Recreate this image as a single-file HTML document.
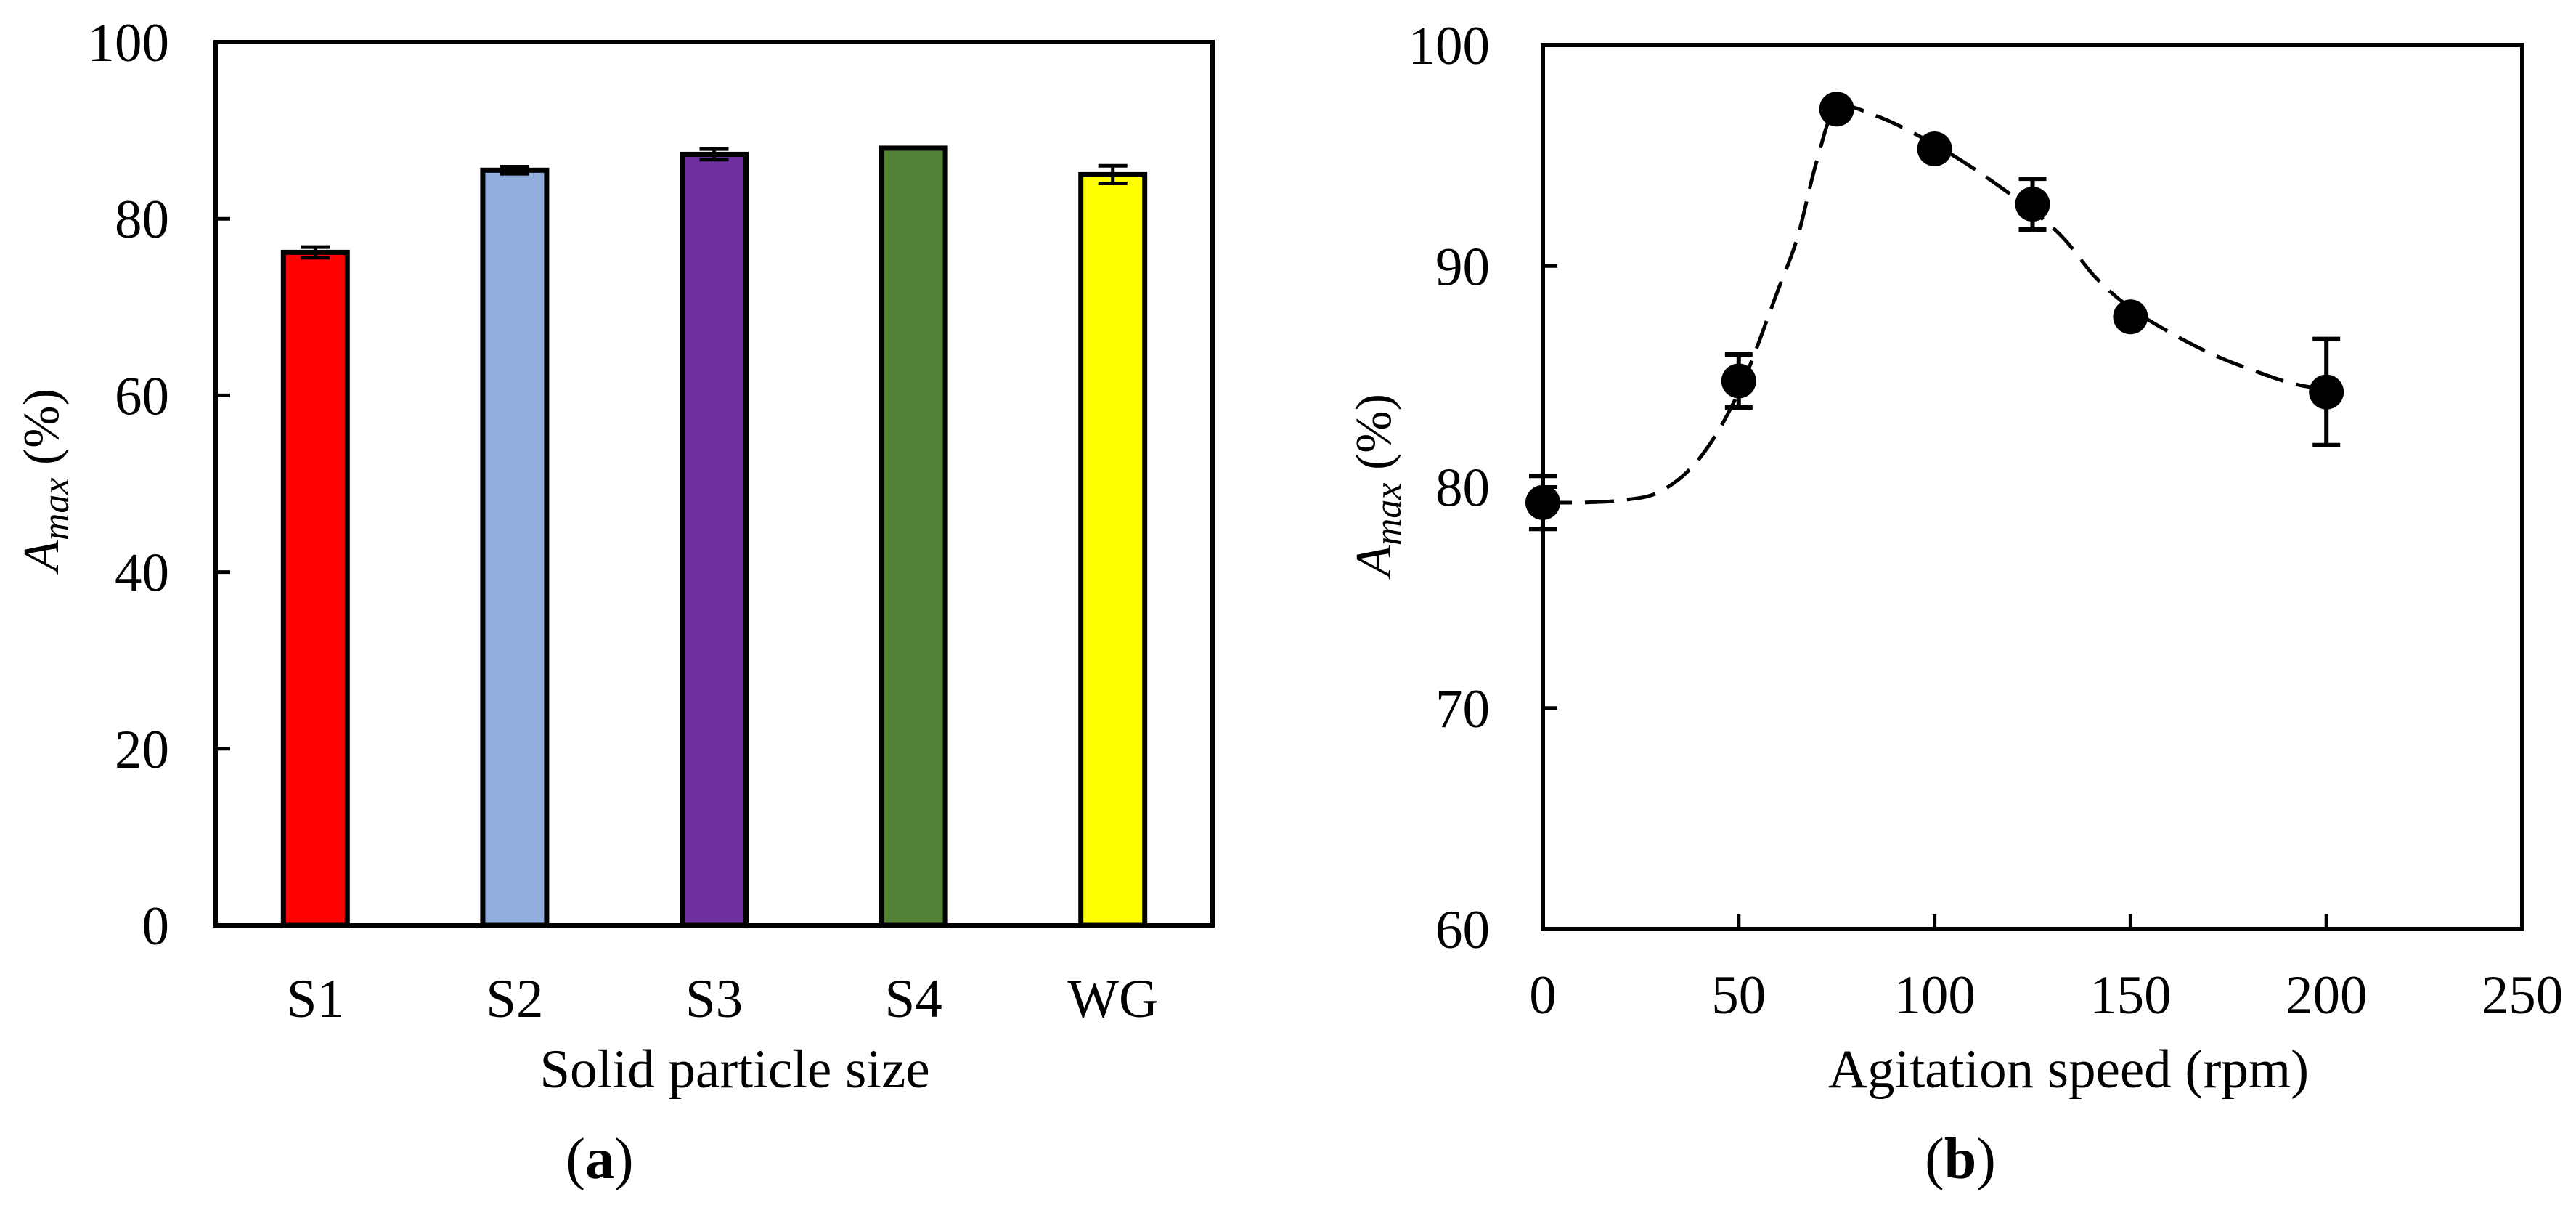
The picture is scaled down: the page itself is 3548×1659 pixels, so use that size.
<!DOCTYPE html>
<html><head><meta charset="utf-8">
<style>
html,body{margin:0;padding:0;background:#fff;}
svg{display:block;font-family:"Liberation Serif","Times New Roman",serif;}
</style></head>
<body>
<svg id="fig" width="3548" height="1659" viewBox="0 0 3548 1659" xmlns="http://www.w3.org/2000/svg">
<g id="chartA"></g>
<g id="chartB"></g>
</svg>
<script>
// ---- Chart (a) data ----
const catsA = ["S1","S2","S3","S4","WG"];
const valsA = [76.2, 85.5, 87.3, 88.0, 85.0];
const errA = [0.6, 0.4, 0.6, 0.0, 1.0];
const colorsA = ["#FF0000","#8FADDD","#7030A0","#538135","#FFFF00"];
const ticksA = [0,20,40,60,80,100];
// ---- Chart (b) data ----
const xB = [0, 50, 75, 100, 125, 150, 200];
const yB = [79.3, 84.8, 97.1, 95.3, 92.8, 87.7, 84.3];
const errB = [1.2, 1.2, 0, 0, 1.15, 0, 2.4];
const fitX = [0,10,20,30,40,50,60,65,70,75,85,100,115,131,141,150,160,171,181,191,200];
const fitY = [79.3,79.3,79.4,79.8,81.3,84.3,88.9,91.3,94.8,97.1,96.8,95.5,93.8,91.6,89.5,88.1,87.0,86.0,85.3,84.7,84.4];
const xTicksB = [0,50,100,150,200,250];
const yTicksB = [60,70,80,90,100];

const NS = "http://www.w3.org/2000/svg";
function mk(parent, tag, attrs, text){
  const e = document.createElementNS(NS, tag);
  for (const k in attrs) e.setAttribute(k, attrs[k]);
  if (text !== undefined) e.textContent = text;
  parent.appendChild(e);
  return e;
}

// ---------- Chart A ----------
const gA = document.getElementById("chartA");
const AL=297, AR=1670, AT=58, AB=1274;
const yA = v => AB - (v-0)/(100-0)*(AB-AT);
const band = (AR-AL)/catsA.length;
const xA = i => AL + band*(i+0.5);
ticksA.forEach(t=>{
  const ln = mk(gA,"line",{x1:AL,x2:AL+20,y1:yA(t),y2:yA(t),stroke:"#000","stroke-width":5});
  
  
  const tx = mk(gA,"text",{x:233,y:yA(t)+26,"text-anchor":"end","font-size":75},String(t));
  
  
});
catsA.forEach((c,i)=>{
  const h = yA(0)-yA(valsA[i]);
  const r = mk(gA,"rect",{x:xA(i)-44,y:yA(valsA[i]),width:88,height:h,fill:colorsA[i],stroke:"#000","stroke-width":7});
  
  
  if (errA[i]>0){
    const eg = mk(gA,"g",{stroke:"#000","stroke-width":5});
    
    
    const y1=yA(valsA[i]+errA[i]), y2=yA(valsA[i]-errA[i]);
    mk(eg,"line",{x1:xA(i),x2:xA(i),y1:y1,y2:y2});
    mk(eg,"line",{x1:xA(i)-20,x2:xA(i)+20,y1:y1,y2:y1});
    mk(eg,"line",{x1:xA(i)-20,x2:xA(i)+20,y1:y2,y2:y2});
  }
  const tl = mk(gA,"text",{x:xA(i),y:1400,"text-anchor":"middle","font-size":75},c);
  
  
});
const frameA = mk(gA,"rect",{x:AL,y:AT,width:AR-AL,height:AB-AT,fill:"none",stroke:"#000","stroke-width":6});


const xtA = mk(gA,"text",{x:1012,y:1497,"text-anchor":"middle","font-size":75},"Solid particle size");


const ytA = mk(gA,"text",{x:0,y:0,"text-anchor":"middle","font-size":70,transform:"translate(80,661) rotate(-90)"});


ytA.innerHTML = '<tspan font-style="italic">A</tspan><tspan font-style="italic" font-size="52" dy="14">max</tspan><tspan dy="-14"> (%)</tspan>';
const capA = mk(gA,"text",{x:826,y:1622,"text-anchor":"middle","font-size":80});


capA.innerHTML = '(<tspan font-weight="bold">a</tspan>)';

// ---------- Chart B ----------
const gB = document.getElementById("chartB");
const BL=2125, BR=3474, BT=62, BB=1279;
const sx = v => BL + (v-0)/(250-0)*(BR-BL);
const sy = v => BB - (v-60)/(100-60)*(BB-BT);
yTicksB.forEach(t=>{
  const ln = mk(gB,"line",{x1:BL,x2:BL+20,y1:sy(t),y2:sy(t),stroke:"#000","stroke-width":5});
  
  
  const tx = mk(gB,"text",{x:2052,y:sy(t)+26,"text-anchor":"end","font-size":75},String(t));
  
  
});
xTicksB.forEach(t=>{
  const ln = mk(gB,"line",{x1:sx(t),x2:sx(t),y1:BB,y2:BB-20,stroke:"#000","stroke-width":5});
  
  
  const tx = mk(gB,"text",{x:sx(t),y:1395,"text-anchor":"middle","font-size":75},String(t));
  
  
});
// fit curve (Catmull-Rom)
const pts = fitX.map((x,i)=>[sx(x),sy(fitY[i])]);
let d = "M"+pts[0][0]+","+pts[0][1];
for (let i=0;i<pts.length-1;i++){
  const p0=pts[Math.max(0,i-1)], p1=pts[i], p2=pts[i+1], p3=pts[Math.min(pts.length-1,i+2)];
  const c1=[p1[0]+(p2[0]-p0[0])/6, p1[1]+(p2[1]-p0[1])/6];
  const c2=[p2[0]-(p3[0]-p1[0])/6, p2[1]-(p3[1]-p1[1])/6];
  d += " C"+c1[0]+","+c1[1]+" "+c2[0]+","+c2[1]+" "+p2[0]+","+p2[1];
}
const fit = mk(gB,"path",{d:d,fill:"none",stroke:"#000","stroke-width":5,"stroke-dasharray":"40 18"});


xB.forEach((x,i)=>{
  if (errB[i]>0){
    const eg = mk(gB,"g",{stroke:"#000","stroke-width":6});
    
    
    const y1=sy(yB[i]+errB[i]), y2=sy(yB[i]-errB[i]);
    mk(eg,"line",{x1:sx(x),x2:sx(x),y1:y1,y2:y2});
    mk(eg,"line",{x1:sx(x)-19,x2:sx(x)+19,y1:y1,y2:y1});
    mk(eg,"line",{x1:sx(x)-19,x2:sx(x)+19,y1:y2,y2:y2});
  }
  const c = mk(gB,"circle",{cx:sx(x),cy:sy(yB[i]),r:24,fill:"#000"});
  
  
});
const frameB = mk(gB,"rect",{x:BL,y:BT,width:BR-BL,height:BB-BT,fill:"none",stroke:"#000","stroke-width":6});


const xtB = mk(gB,"text",{x:2849,y:1497,"text-anchor":"middle","font-size":75},"Agitation speed (rpm)");


const ytB = mk(gB,"text",{x:0,y:0,"text-anchor":"middle","font-size":70,transform:"translate(1915,668) rotate(-90)"});


ytB.innerHTML = '<tspan font-style="italic">A</tspan><tspan font-style="italic" font-size="52" dy="14">max</tspan><tspan dy="-14"> (%)</tspan>';
const capB = mk(gB,"text",{x:2700,y:1622,"text-anchor":"middle","font-size":80});


capB.innerHTML = '(<tspan font-weight="bold">b</tspan>)';
</script>
</body></html>
